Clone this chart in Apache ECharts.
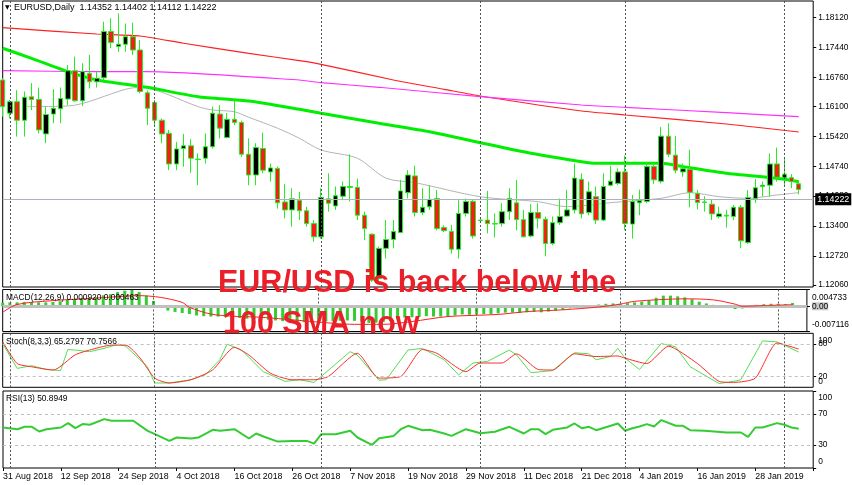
<!DOCTYPE html>
<html><head><meta charset="utf-8">
<script src="https://cdn.jsdelivr.net/npm/echarts@6/dist/echarts.min.js"></script>
<style>html,body{margin:0;padding:0;background:#fff}#c{width:852px;height:485px}</style>
</head><body><div id="c"></div>
<script>
// ---- calendar (trading days shown) ----
const months = [
  ['Aug','2018',[31]],
  ['Sep','2018',[3,4,5,6,7,10,11,12,13,14,17,18,19,20,21,24,25,26,27,28]],
  ['Oct','2018',[1,2,3,4,5,8,9,10,11,12,15,16,17,18,19,22,23,24,25,26,29,30,31]],
  ['Nov','2018',[1,2,5,6,7,8,9,12,13,14,15,16,19,20,21,22,23,26,27,28,29,30]],
  ['Dec','2018',[3,4,5,6,7,10,11,12,13,14,17,18,19,20,21,24,26,27,28,31]],
  ['Jan','2019',[2,3,4,7,8,9,10,11,14,15,16,17,18,21,22,23,24,25,28,29,30,31]],
  ['Feb','2019',[1,4,5]]
];
// ---- candles ----
const open = [1.1670,1.1595,1.1621,1.1579,1.1632,1.1626,1.1548,1.1593,1.1605,1.1627,
1.1691,1.1623,1.1685,1.1666,1.1675,1.1780,1.1746,1.1751,1.1768,1.1738,
1.1641,1.1619,1.1579,1.1549,1.1480,1.1515,1.1521,1.1490,1.1493,1.1519,
1.1593,1.1540,1.1581,1.1574,1.1502,1.1455,1.1515,1.1462,1.1470,1.1394,
1.1376,1.1398,1.1374,1.1345,1.1315,1.1401,1.1385,1.1407,1.1427,1.1427,
1.1364,1.1321,1.1221,1.1289,1.1309,1.1325,1.1415,1.1453,1.1370,1.1383,
1.1402,1.1336,1.1327,1.1287,1.1368,1.1395,1.1352,1.1353,1.1345,1.1345,
1.1372,1.1392,1.1354,1.1317,1.1370,1.1355,1.1300,1.1347,1.1362,1.1376,
1.1445,1.1370,1.1406,1.1353,1.1432,1.1436,1.1462,1.1344,1.1392,1.1395,
1.1474,1.1441,1.1543,1.1500,1.1462,1.1468,1.1413,1.1393,1.1389,1.1361,
1.1364,1.1361,1.1382,1.1302,1.1402,1.1429,1.1432,1.1480,1.1449,1.1449,1.14352];
const high = [1.1674,1.1625,1.1647,1.1644,1.1663,1.1653,1.1610,1.1649,1.1653,1.1704,
1.1723,1.1708,1.1727,1.1689,1.1802,1.1810,1.1821,1.1798,1.1800,1.1761,
1.1646,1.1625,1.1583,1.1557,1.1530,1.1548,1.1536,1.1504,1.1549,1.1610,
1.1613,1.1595,1.1625,1.1578,1.1538,1.1527,1.1551,1.1481,1.1474,1.1434,
1.1425,1.1417,1.1383,1.1353,1.1425,1.1459,1.1429,1.1440,1.1502,1.1447,
1.1372,1.1323,1.1293,1.1353,1.1353,1.1444,1.1466,1.1476,1.1425,1.1432,
1.1421,1.1341,1.1342,1.1398,1.1402,1.1400,1.1358,1.1419,1.1368,1.1391,
1.1425,1.1444,1.1376,1.1389,1.1391,1.1361,1.1361,1.1402,1.1421,1.1481,
1.1459,1.1440,1.1429,1.1459,1.1476,1.1470,1.1499,1.1410,1.1422,1.1485,
1.1478,1.1564,1.1572,1.1543,1.1481,1.1512,1.1421,1.1407,1.1400,1.1383,
1.1376,1.1387,1.1387,1.1421,1.1446,1.1440,1.1504,1.1517,1.1496,1.1457,1.14402];
const low = [1.1587,1.1583,1.1542,1.1542,1.1602,1.1549,1.1527,1.1572,1.1572,1.1613,
1.1621,1.1611,1.1651,1.1653,1.1670,1.1742,1.1734,1.1734,1.1727,1.1640,
1.1568,1.1564,1.1527,1.1466,1.1466,1.1474,1.1460,1.1432,1.1481,1.1515,
1.1538,1.1538,1.1568,1.1496,1.1432,1.1432,1.1459,1.1440,1.1379,1.1357,
1.1338,1.1353,1.1338,1.1304,1.1311,1.1372,1.1376,1.1398,1.1395,1.1353,
1.1308,1.1213,1.1209,1.1266,1.1289,1.1323,1.1402,1.1361,1.1364,1.1376,
1.1330,1.1326,1.1277,1.1266,1.1361,1.1311,1.1347,1.1323,1.1314,1.1338,
1.1353,1.1330,1.1314,1.1314,1.1334,1.1271,1.1296,1.1342,1.1361,1.1368,
1.1357,1.1364,1.1344,1.1351,1.1429,1.1432,1.1330,1.1311,1.1364,1.1391,
1.1435,1.1436,1.1496,1.1459,1.1451,1.1382,1.1377,1.1372,1.1353,1.1357,
1.1336,1.1353,1.1289,1.1299,1.1392,1.1406,1.1406,1.1440,1.1429,1.1425,1.14112];
const close = [1.1610,1.1621,1.1579,1.1631,1.1626,1.1557,1.1592,1.1606,1.1628,1.1691,
1.1623,1.1689,1.1666,1.1674,1.1780,1.1755,1.1751,1.1768,1.1738,1.1644,
1.1606,1.1579,1.1548,1.1480,1.1514,1.1521,1.1493,1.1491,1.1519,1.1595,
1.1561,1.1581,1.1574,1.1502,1.1455,1.1517,1.1466,1.1471,1.1392,1.1376,
1.1401,1.1374,1.1345,1.1315,1.1404,1.1391,1.1408,1.1429,1.1429,1.1364,
1.1334,1.1217,1.1289,1.1309,1.1327,1.1419,1.1455,1.1370,1.1382,1.1400,
1.1334,1.1329,1.1287,1.1368,1.1395,1.1317,1.1353,1.1345,1.1344,1.1372,
1.1402,1.1354,1.1315,1.1370,1.1357,1.1300,1.1347,1.1361,1.1376,1.1448,
1.1367,1.1417,1.1353,1.1429,1.1441,1.1462,1.1345,1.1395,1.1397,1.1474,
1.1444,1.1543,1.1502,1.1466,1.1469,1.1416,1.1393,1.1394,1.1367,1.1367,
1.1362,1.1382,1.1306,1.1404,1.1426,1.1432,1.1480,1.1450,1.1457,1.1440,1.14222];
// ---- moving averages [barIndex, value] as read ----
const smaRed = [[0,1.17885],[13,1.17742],[19,1.17697],[25,1.17532],[34,1.17305],[41,1.17138],[44,1.17056],[54,1.16701],[61,1.1649],[66,1.16339],[80,1.15999],[86,1.15909],[100,1.15705],[110,1.15524]];
const smaPink = [[0,1.16912],[13,1.1689],[20,1.1689],[41,1.16701],[44,1.1664],[52,1.16536],[66,1.16323],[80,1.16135],[86,1.16083],[100,1.15961],[110,1.1587]];
const sma100 = [[0,1.17419],[4,1.17192],[9,1.16889],[13,1.16701],[20,1.16536],[27,1.16323],[34,1.16226],[41,1.16038],[44,1.15947],[52,1.1572],[59,1.1553],[66,1.15282],[73,1.15042],[80,1.14852],[82,1.14815],[91,1.14815],[94,1.1474],[100,1.1459],[107,1.14476],[110,1.14399]];
const smaGray = [[3,1.16097],[9,1.16112],[17,1.16491],[19,1.16536],[21,1.16475],[23,1.16361],[27,1.16097],[29,1.16022],[32,1.15983],[34,1.15857],[38,1.15608],[41,1.15381],[44,1.15116],[49,1.1493],[53,1.14476],[57,1.14376],[66,1.14059],[74,1.13946],[78,1.13833],[84,1.13924],[91,1.14023],[95,1.1415],[99,1.14059],[103,1.14023],[107,1.14098],[110,1.1415]];
// ---- MACD ----
const macdHist = [0.0010,0.0011,0.0011,0.0012,0.0012,0.0011,0.0011,0.0012,0.0014,0.0018,
0.0020,0.0023,0.0024,0.0025,0.0031,0.0034,0.0040,0.0044,0.0046,0.0040,
0.0030,0.0015,-0.0002,-0.0012,-0.0016,-0.0019,-0.0022,-0.0026,-0.0028,-0.0029,
-0.0029,-0.0030,-0.0031,-0.0033,-0.0035,-0.0036,-0.0037,-0.0038,-0.0040,-0.0042,
-0.0043,-0.0044,-0.0045,-0.0046,-0.0044,-0.0043,-0.0042,-0.0041,-0.0040,-0.0041,
-0.0043,-0.0047,-0.0046,-0.0044,-0.0042,-0.0037,-0.0032,-0.0031,-0.0030,-0.0028,
-0.0029,-0.0029,-0.0030,-0.0026,-0.0023,-0.0024,-0.0023,-0.0022,-0.0022,-0.0020,
-0.0018,-0.0018,-0.0019,-0.0017,-0.0016,-0.0017,-0.0015,-0.0012,-0.0010,-0.0006,
-0.0005,-0.0002,0.0002,0.0005,0.0007,0.0008,0.0007,0.0009,0.0011,0.0013,
0.0017,0.0024,0.0030,0.0030,0.0028,0.0025,0.0020,0.0013,0.0008,0.0004,
0.0001,-0.0005,-0.0008,-0.0006,-0.0002,0.0004,0.0006,0.0007,0.0007,0.0006,0.00092];
const macdSignal = [[0,-0.0017],[2,0.0005],[7,0.0016],[13,0.0023],[19,0.0030],[22,0.0025],[25,0.0011],[26,-0.0003],[29,-0.0022],[32,-0.0028],[36,-0.0031],[46,-0.0048],[49,-0.0051],[53,-0.0051],[57,-0.0043],[62,-0.0029],[69,-0.0023],[73,-0.0015],[78,-0.0010],[83,-0.0002],[86,0.0006],[88,0.0014],[95,0.0021],[99,0.0018],[102,0.0006],[103,0.0000],[106,0.0002],[110,0.000463]];
// ---- Stochastic ----
const stochK = [[0,81],[2,35],[4,40],[6,33],[8,31],[9,70],[10,69],[12,66],[14,72],[16,80],[17,76],[20,38],[21,8],[23,8],[26,14],[28,23],[30,51],[31,80],[33,69],[36,29],[39,11],[41,14],[43,9],[44,20],[48,66],[49,60],[52,13],[53,14],[56,69],[58,72],[61,51],[63,23],[65,45],[67,48],[70,69],[71,60],[73,27],[76,31],[79,64],[81,62],[82,51],[84,57],[85,72],[86,54],[88,33],[91,81],[93,75],[95,38],[99,7],[101,11],[102,14],[105,86],[107,84],[108,78],[110,65.2797]];
const stochD = [[0,84],[2,44],[4,38],[7,32],[10,60],[12,69],[15,78],[17,78],[19,54],[21,17],[23,8],[26,14],[29,32],[32,74],[34,60],[37,26],[40,14],[43,14],[45,20],[49,63],[52,17],[55,20],[58,70],[60,63],[64,29],[66,45],[69,45],[71,62],[74,33],[76,32],[79,62],[82,57],[85,58],[86,54],[89,44],[92,76],[96,44],[99,11],[101,9],[104,17],[107,82],[110,70.7566]];
// ---- RSI ----
const rsi = [[0,52.6],[2,50.4],[3,53.5],[4,53.5],[5,47.4],[6,50.4],[8,52.6],[9,58.3],[10,51.7],[11,57],[12,56.1],[14,63.5],[15,61.3],[18,61.3],[20,48.3],[21,43.9],[23,35.2],[24,39.6],[26,38.3],[27,39.6],[29,49.6],[30,48.3],[32,50.4],[34,38.3],[35,44.8],[36,40.9],[38,34.3],[40,35.2],[42,35.2],[43,31.7],[44,43.9],[46,43.9],[48,48.3],[49,39.6],[51,30],[52,38.7],[54,41.7],[55,50.4],[56,54.8],[58,49.1],[59,49.6],[61,44.8],[62,41.7],[64,50.4],[66,45.2],[68,47],[70,53.5],[72,44.8],[73,50.4],[74,50.4],[75,43.9],[76,49.6],[78,52.6],[79,57.8],[80,51.7],[81,53.5],[82,49.1],[84,54.8],[85,57.8],[86,48.3],[87,51.7],[88,53.9],[89,57],[90,53.9],[91,62.2],[93,54.8],[94,54.8],[95,49.1],[97,48.3],[100,46.1],[102,46.1],[103,40.4],[104,52.6],[105,52.6],[107,58.3],[108,56.1],[109,52.6],[110,50.8949]];
// ---- tick labels ----
const priceTicks = [1.1206,1.1272,1.1340,1.1408,1.1474,1.1542,1.1610,1.1676,1.1744,1.1812];
const macdTicks = [-0.007116,0,0.004733];
const stochLevelTicks = [20,80];
const stochEdgeTicks = [0,100];
const rsiTicks = [0,30,70,100];
const headerText = 'EURUSD,Daily  1.14352 1.14402 1.14112 1.14222';
const macdText = 'MACD(12,26,9) 0.000920 0.000463';
const stochText = 'Stoch(8,3,3) 65.2797 70.7566';
const rsiText = 'RSI(13) 50.8949';
const noteLines = ['EUR/USD is back below the','100 SMA now'];

// ---- build ----
const categories = [];
months.forEach(([m,y,days]) => days.forEach(d => categories.push(d+' '+m+' '+y)));
const monthStarts = months.slice(1).map(([m,y,days]) => days[0]+' '+m+' '+y);
const xCats = categories.concat(['',' ']);
const candleData = open.map((o,i) => [o, close[i], low[i], high[i]]);
const lastClose = close[close.length-1];

const FONT = 'Liberation Sans, Arial, sans-serif';
const FS = 8.4;
const sepStyle = {color:'#555', type:[2,2], width:1};
const sepLines = monthStarts.map(c => ({xAxis:c, lineStyle:sepStyle}));
const levelStyle = {color:'#c0c0c0', type:[3,3], width:1};
const gridBase = {left:2.7, right:38.8, show:true, borderColor:'#000', borderWidth:1, backgroundColor:'#fff'};

function edgeFmt(min, max, fmt){
  return function(v){
    const t = fmt(v);
    if (Math.abs(v-max) < 1e-9) return '{t|'+t+'}';
    if (Math.abs(v-min) < 1e-9) return '{b|'+t+'}';
    if (Math.abs(v) < 1e-12 && t === '0.00') return '{z|'+t+'}';
    return t;
  };
}
function rich(tLH, bLH){
  return {
    t:{lineHeight:tLH, verticalAlign:'bottom', fontSize:FS, fontFamily:FONT, color:'#000'},
    b:{lineHeight:bLH, verticalAlign:'top', fontSize:FS, fontFamily:FONT, color:'#000'},
    z:{backgroundColor:'#c8c8c8', fontSize:FS, fontFamily:FONT, color:'#000'}
  };
}
function xAxisDef(gi, showLabels){
  return {
    type:'category', gridIndex:gi, data:xCats, boundaryGap:false,
    axisLine:{show:false},
    axisTick:{show:showLabels, interval:7, length:3, lineStyle:{color:'#000'}},
    axisLabel:{show:showLabels, interval:7, align:'left', margin:4, fontSize:FS+0.4, fontFamily:FONT, color:'#000', hideOverlap:false},
    splitLine:{show:false}
  };
}
function yAxisDef(gi, min, max, ticks, fmt, tLH, bLH, withTicks){
  return {
    type:'value', gridIndex:gi, position:'right', min:min, max:max,
    axisLine:{show:false},
    axisTick:{show:withTicks !== false, length:3, lineStyle:{color:'#000'}, customValues:ticks},
    axisLabel:{show:true, customValues:ticks, margin:5, fontSize:FS, fontFamily:FONT, color:'#000',
      hideOverlap:false, showMinLabel:true, showMaxLabel:true,
      formatter: edgeFmt(min, max, fmt), rich: rich(tLH, bLH)},
    splitLine:{show:false}
  };
}

const option = {
  animation:false,
  backgroundColor:'#fff',
  grid:[
    Object.assign({top:1, height:286}, gridBase),
    Object.assign({top:289.5, height:42}, gridBase),
    Object.assign({top:333.3, height:54}, gridBase),
    Object.assign({top:391, height:77}, gridBase)
  ],
  xAxis:[xAxisDef(0,false), xAxisDef(1,false), xAxisDef(2,false), xAxisDef(3,true)],
  yAxis:[
    yAxisDef(0, 1.12015, 1.18489, priceTicks, v => v.toFixed(5), 10, 10),
    yAxisDef(1, -0.007116, 0.004733, macdTicks, v => (Math.abs(v) < 1e-12 ? '0.00' : String(v)), 24, 22),
    yAxisDef(2, 0, 100, stochLevelTicks, v => String(v), 22, 19),
    yAxisDef(3, 0, 100, rsiTicks, v => String(v), 22, 20),
    yAxisDef(2, 0, 100, stochEdgeTicks, v => String(v), 22, 19, false)
  ],
  series:[
    {type:'line', name:'SMA red', xAxisIndex:0, yAxisIndex:0, data:smaRed, showSymbol:false, smooth:0.2,
      lineStyle:{color:'#ff2020', width:1.2}, z:2},
    {type:'line', name:'SMA magenta', xAxisIndex:0, yAxisIndex:0, data:smaPink, showSymbol:false, smooth:0.2,
      lineStyle:{color:'#ff30ff', width:1.2}, z:2},
    {type:'line', name:'SMA gray', xAxisIndex:0, yAxisIndex:0, data:smaGray, showSymbol:false, smooth:0.3,
      lineStyle:{color:'#b4b4b4', width:1}, z:2},
    {type:'line', name:'100 SMA', xAxisIndex:0, yAxisIndex:0, data:sma100, showSymbol:false, smooth:0.2,
      lineStyle:{color:'#00ee00', width:3}, z:3},
    {type:'candlestick', name:'EURUSD', xAxisIndex:0, yAxisIndex:0, data:candleData, barWidth:5, clip:false, z:4,
      itemStyle:{color:'#000', color0:'#ff1a1a', borderColor:'#22ee22', borderColor0:'#22ee22', borderWidth:1},
      markLine:{symbol:['none','none'], silent:true, animation:false, label:{show:false},
        data: sepLines.concat([{yAxis:lastClose, lineStyle:{color:'#aab2bf', width:1, type:'solid'},
          label:{show:true, position:'end', distance:2, formatter:lastClose.toFixed(5), backgroundColor:'#000',
            color:'#fff', fontSize:FS+0.5, fontFamily:FONT, padding:[2,2,1,2]}}])}},
    {type:'bar', name:'MACD', xAxisIndex:1, yAxisIndex:1, data:macdHist, barWidth:3,
      itemStyle:{color:'#33cc33'},
      markLine:{symbol:['none','none'], silent:true, animation:false, label:{show:false},
        data: sepLines.concat([{yAxis:0, lineStyle:{color:'#c0c0c0', width:3, type:'solid'}}])}},
    {type:'line', name:'Signal', xAxisIndex:1, yAxisIndex:1, data:macdSignal, showSymbol:false, smooth:0.3,
      lineStyle:{color:'#ff2020', width:1}, z:5},
    {type:'line', name:'%K', xAxisIndex:2, yAxisIndex:2, data:stochK, showSymbol:false,
      lineStyle:{color:'#55dd55', width:1},
      markLine:{symbol:['none','none'], silent:true, animation:false, label:{show:false},
        data: sepLines.concat([{yAxis:80, lineStyle:levelStyle},{yAxis:20, lineStyle:levelStyle}])}},
    {type:'line', name:'%D', xAxisIndex:2, yAxisIndex:2, data:stochD, showSymbol:false, smooth:0.2,
      lineStyle:{color:'#ff2a2a', width:1}},
    {type:'line', name:'RSI', xAxisIndex:3, yAxisIndex:3, data:rsi, showSymbol:false,
      lineStyle:{color:'#33cc33', width:2},
      markLine:{symbol:['none','none'], silent:true, animation:false, label:{show:false},
        data: sepLines.concat([{yAxis:70, lineStyle:levelStyle},{yAxis:30, lineStyle:levelStyle}])}}
  ],
  graphic:[
    {type:'text', x:5, y:7, z:50, style:{text:'▼', font:'6px "DejaVu Sans"', fill:'#000', verticalAlign:'middle'}},
    {type:'text', x:14, y:7.5, z:50, style:{text:headerText, font:FS+0.6+'px '+FONT, fill:'#000', verticalAlign:'middle'}},
    {type:'text', x:6, y:297.5, z:50, style:{text:macdText, font:FS+'px '+FONT, fill:'#000', verticalAlign:'middle'}},
    {type:'text', x:6, y:341.5, z:50, style:{text:stochText, font:FS+'px '+FONT, fill:'#000', verticalAlign:'middle'}},
    {type:'text', x:6, y:399, z:50, style:{text:rsiText, font:FS+'px '+FONT, fill:'#000', verticalAlign:'middle'}},
    {type:'text', x:218, y:284, z:100, style:{text:noteLines[0], font:'bold 30.5px "Liberation Sans"', fill:'#ea1f29', verticalAlign:'middle'}},
    {type:'text', x:223, y:324.5, z:100, style:{text:noteLines[1], font:'bold 30.5px "Liberation Sans"', fill:'#ea1f29', verticalAlign:'middle'}}
  ]
};
const chart = echarts.init(document.getElementById('c'), null, {renderer:'canvas'});
chart.setOption(option);
</script>
</body></html>
